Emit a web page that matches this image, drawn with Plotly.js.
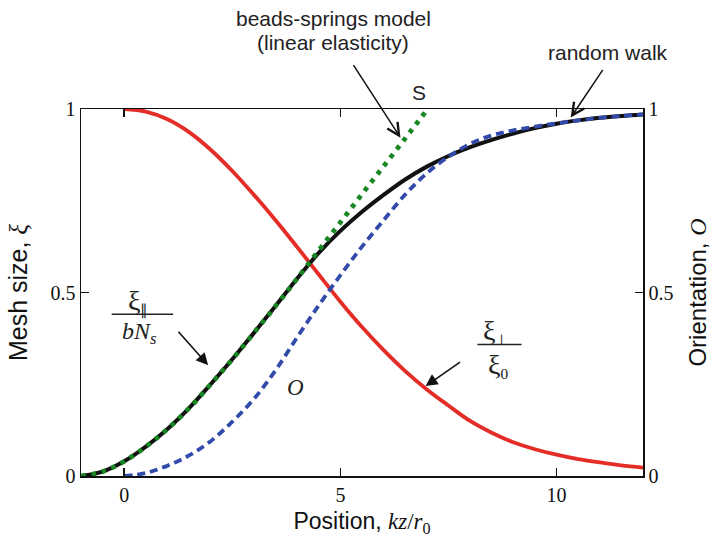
<!DOCTYPE html>
<html>
<head>
<meta charset="utf-8">
<script src="https://cdn.plot.ly/plotly-3.0.1.min.js"></script>
<style>html,body{margin:0;padding:0;background:#fff;}#chart{width:714px;height:537px;}</style>
</head>
<body>
<div id="chart"></div>
<script>
// ---- data ----
const xBlack = [-1,-0.5,0,0.5,1,1.5,2,2.5,3,3.5,4,4.5,5,5.5,6,6.5,7,7.5,8,8.5,9,9.5,10,10.5,11,11.5,12];
const yBlack = [0,0.012,0.04,0.08,0.128,0.185,0.25,0.318,0.39,0.463,0.538,0.608,0.668,0.72,0.766,0.808,0.843,0.872,0.896,0.916,0.933,0.948,0.96,0.969,0.976,0.981,0.985];

const xGreen = [-1,-0.5,0,0.5,1,1.5,2,2.5,3,3.5,4,4.5,5,5.5,6,6.5,7];
const yGreen = [0,0.012,0.04,0.08,0.128,0.185,0.25,0.318,0.39,0.463,0.538,0.615,0.691,0.768,0.844,0.92,0.997];

const xRed = [0,0.5,1,1.5,2,2.5,3,3.5,4,4.5,5,5.5,6,6.5,7,7.5,8,8.5,9,9.5,10,10.5,11,11.5,12];
const yRed = [1,0.993,0.972,0.937,0.889,0.831,0.766,0.697,0.624,0.549,0.475,0.406,0.343,0.286,0.236,0.192,0.15,0.118,0.092,0.073,0.058,0.046,0.037,0.029,0.023];

const xBlue = [0,0.5,1,1.5,2,2.5,3,3.5,4,4.5,5,5.5,6,6.5,7,7.5,8,8.5,9,9.5,10,10.5,11,11.5,12];
const yBlue = [0,0.008,0.028,0.056,0.095,0.148,0.21,0.288,0.378,0.465,0.547,0.625,0.697,0.767,0.825,0.87,0.905,0.928,0.942,0.952,0.961,0.969,0.976,0.981,0.985];

const xTicks = [0,5,10];
const xTickText = ['0','5','10'];
const yTicks = [0,0.5,1];
const yTickText = ['0','0.5','1'];

const SERIF = 'Liberation Serif, Times New Roman, serif';
const SANS = 'Liberation Sans, Arial, sans-serif';

const traces = [
  {x: xRed, y: yRed, mode: 'lines', line: {color: 'rgb(228,45,38)', width: 3.8, shape: 'spline'}, hoverinfo: 'skip', name: 'xi_perp/xi0'},
  {x: xBlack, y: yBlack, mode: 'lines', line: {color: '#111', width: 4, shape: 'spline'}, hoverinfo: 'skip', name: 'xi_par/bNs'},
  {x: xGreen, y: yGreen, mode: 'lines', line: {color: 'rgb(25,135,35)', width: 4.8, dash: '4.5px,6px', shape: 'spline'}, hoverinfo: 'skip', name: 'S'},
  {x: xBlue, y: yBlue, yaxis: 'y2', mode: 'lines', line: {color: 'rgb(50,75,170)', width: 3.8, dash: '8px,5px', shape: 'spline'}, hoverinfo: 'skip', name: 'O'}
];

const axisCommon = {
  showline: true, linecolor: '#111', linewidth: 1.5,
  ticks: 'inside', ticklen: 8, tickwidth: 1.5, tickcolor: '#111',
  showgrid: false, zeroline: false,
  tickfont: {family: SERIF, size: 20, color: '#111'}
};

const layout = {
  width: 714, height: 537,
  margin: {l: 81, r: 71, t: 109, b: 61},
  paper_bgcolor: '#fff', plot_bgcolor: '#fff',
  showlegend: false,
  xaxis: Object.assign({}, axisCommon, {
    range: [-1, 12], tickvals: xTicks, ticktext: xTickText, mirror: 'ticks',
    title: {text: 'Position, <span style="font-family:Liberation Serif"><i>kz</i>/<i>r</i><sub>0</sub></span>', font: {family: SANS, size: 23, color: '#111'}, standoff: 8}
  }),
  yaxis: Object.assign({}, axisCommon, {
    range: [0, 1], tickvals: yTicks, ticktext: yTickText,
    title: {text: 'Mesh size, <span style="font-family:Liberation Serif"><i>ξ</i></span>', font: {family: SANS, size: 25, color: '#111'}, standoff: 16}
  }),
  yaxis2: Object.assign({}, axisCommon, {
    range: [0, 1], tickvals: yTicks, ticktext: yTickText, overlaying: 'y', side: 'right',
    title: {text: 'Orientation, <span style="font-family:Liberation Serif"><i>O</i></span>', font: {family: SANS, size: 24, color: '#111'}, standoff: 16}
  }),
  shapes: [
    {type: 'line', xref: 'x', yref: 'y', x0: -0.29, x1: 1.13, y0: 0.441, y1: 0.441, line: {color: '#222', width: 1.5}},
    {type: 'line', xref: 'x', yref: 'y', x0: 8.17, x1: 9.19, y0: 0.358, y1: 0.358, line: {color: '#222', width: 1.5}}
  ],
  annotations: [
    {x: 4.84, y: 1.246, xref: 'x', yref: 'paper', xanchor: 'center', yanchor: 'middle', text: 'beads-springs model', showarrow: false, font: {family: SANS, size: 21, color: '#222'}},
    {x: 4.84, y: 1.181, xref: 'x', yref: 'paper', xanchor: 'center', yanchor: 'middle', text: '(linear elasticity)', showarrow: false, font: {family: SANS, size: 21, color: '#222'}},
    {x: 6.81, y: 1.045, xref: 'x', yref: 'paper', xanchor: 'center', yanchor: 'middle', text: 'S', showarrow: false, font: {family: SANS, size: 21, color: '#222'}},
    {x: 11.19, y: 1.154, xref: 'x', yref: 'paper', xanchor: 'center', yanchor: 'middle', text: 'random walk', showarrow: false, font: {family: SANS, size: 21, color: '#222'}},
    {x: 0.32, y: 0.475, xref: 'x', yref: 'y', xanchor: 'center', yanchor: 'middle', text: '<span style="font-size:28px">ξ</span><sub>∥</sub>', showarrow: false, font: {family: SERIF, size: 22, color: '#222'}},
    {x: 0.36, y: 0.39, xref: 'x', yref: 'y', xanchor: 'center', yanchor: 'middle', text: '<i>bN<sub>s</sub></i>', showarrow: false, font: {family: SERIF, size: 24, color: '#222'}},
    {x: 8.59, y: 0.394, xref: 'x', yref: 'y', xanchor: 'center', yanchor: 'middle', text: '<span style="font-size:28px">ξ</span><sub>⊥</sub>', showarrow: false, font: {family: SERIF, size: 22, color: '#222'}},
    {x: 8.64, y: 0.302, xref: 'x', yref: 'y', xanchor: 'center', yanchor: 'middle', text: '<span style="font-size:28px">ξ</span><sub>0</sub>', showarrow: false, font: {family: SERIF, size: 22, color: '#222'}},
    {x: 3.96, y: 0.242, xref: 'x', yref: 'y', xanchor: 'center', yanchor: 'middle', text: '<i>O</i>', showarrow: false, font: {family: SERIF, size: 23, color: '#222'}},
    // arrows
    {x: 6.39, y: 0.922, xref: 'x', yref: 'y', text: '', showarrow: true, ax: -48, ay: -74, arrowhead: 5, arrowsize: 1.6, arrowwidth: 1.5, arrowcolor: '#111'},
    {x: 10.33, y: 0.977, xref: 'x', yref: 'y', text: '', showarrow: true, ax: 33, ay: -49, arrowhead: 5, arrowsize: 1.6, arrowwidth: 1.5, arrowcolor: '#111'},
    {x: 1.94, y: 0.302, xref: 'x', yref: 'y', text: '', showarrow: true, ax: -31, ay: -35, arrowhead: 2, arrowsize: 1.5, arrowwidth: 1.6, arrowcolor: '#111'},
    {x: 6.97, y: 0.245, xref: 'x', yref: 'y', text: '', showarrow: true, ax: 36, ay: -25, arrowhead: 2, arrowsize: 1.5, arrowwidth: 1.6, arrowcolor: '#111'}
  ]
};

Plotly.newPlot('chart', traces, layout, {displayModeBar: false, staticPlot: true});
</script>
</body>
</html>
